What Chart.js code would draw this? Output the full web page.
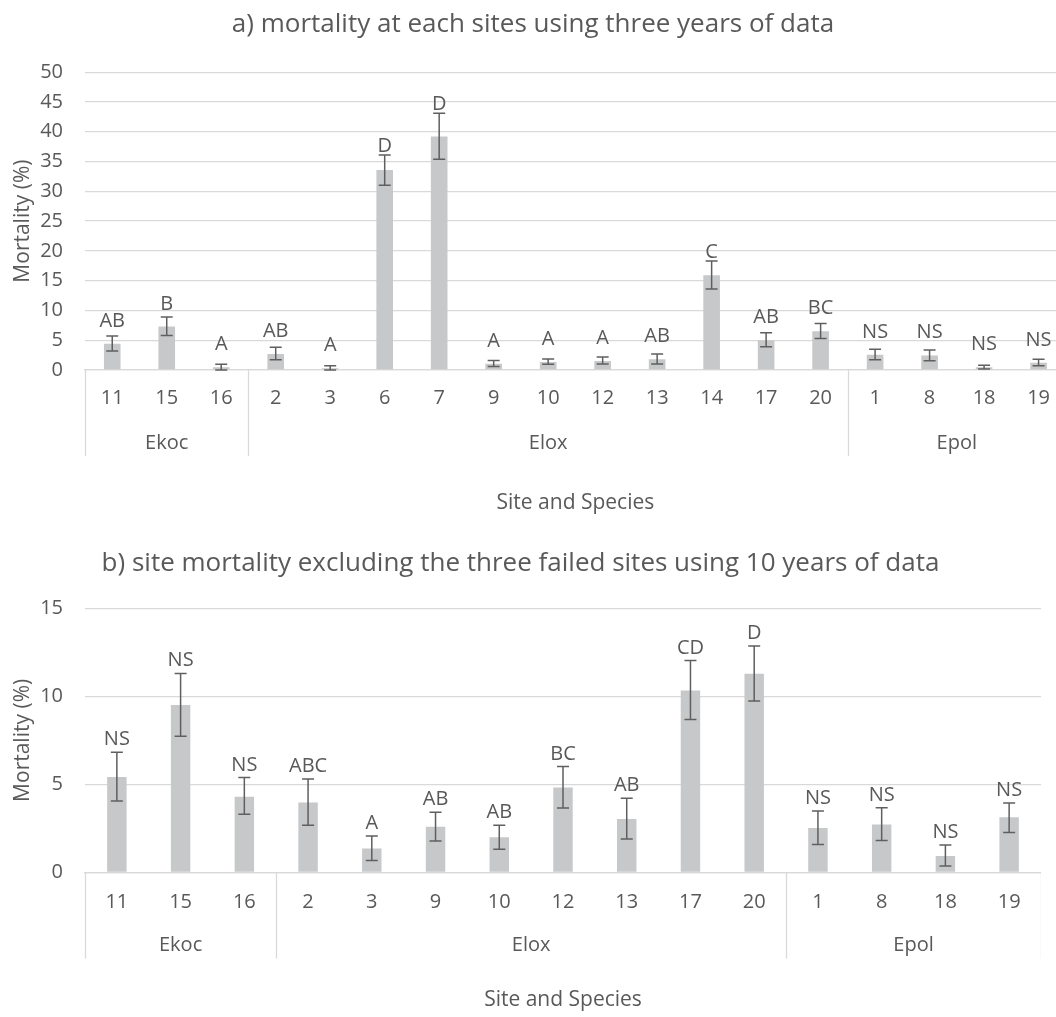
<!DOCTYPE html>
<html>
<head>
<meta charset="utf-8">
<script src="https://cdn.jsdelivr.net/npm/chart.js@4/dist/chart.umd.min.js"></script>
<style>
  html, body { margin: 0; padding: 0; background: #fff; overflow: hidden; width: 1056px; height: 1017px; }
  #wrapA { position: absolute; left: 0; top: 0; }
  #wrapB { position: absolute; left: 0; top: 540px; }
</style>
</head>
<body>
<div id="wrapA"><canvas id="chartA" width="1066" height="540"></canvas></div>
<div id="wrapB"><canvas id="chartB" width="1041" height="477"></canvas></div>
<script>
// a) three years of data
var sitesA = ["11", "15", "16", "2", "3", "6", "7", "9", "10", "12", "13", "14", "17", "20", "1", "8", "18", "19"];
var meanA = [4.4, 7.3, 0.45, 2.7, 0.3, 33.6, 39.2, 1.05, 1.35, 1.5, 1.8, 15.9, 5.0, 6.5, 2.55, 2.45, 0.45, 1.2];
var upperA = [5.7, 8.9, 0.95, 3.8, 0.7, 36.1, 43.1, 1.6, 1.85, 2.2, 2.7, 18.3, 6.25, 7.8, 3.5, 3.35, 0.8, 1.8];
var lowerA = [3.2, 5.8, 0.0, 1.7, 0.0, 31.0, 35.4, 0.6, 0.95, 1.0, 1.0, 13.6, 3.9, 5.3, 1.7, 1.55, 0.15, 0.7];
var lettersA = ["AB", "B", "A", "AB", "A", "D", "D", "A", "A", "A", "AB", "C", "AB", "BC", "NS", "NS", "NS", "NS"];
var speciesA = ["Ekoc", "Elox", "Epol"];
var speciesCountA = [3, 11, 4];
var ticksA = [0, 5, 10, 15, 20, 25, 30, 35, 40, 45, 50];

// b) ten years of data, three failed sites removed
var sitesB = ["11", "15", "16", "2", "3", "9", "10", "12", "13", "17", "20", "1", "8", "18", "19"];
var meanB = [5.42, 9.5, 4.3, 3.97, 1.36, 2.6, 2.0, 4.82, 3.04, 10.33, 11.28, 2.53, 2.72, 0.94, 3.13];
var upperB = [6.82, 11.3, 5.39, 5.31, 2.07, 3.42, 2.68, 6.01, 4.21, 12.03, 12.85, 3.49, 3.68, 1.56, 3.95];
var lowerB = [4.06, 7.73, 3.3, 2.68, 0.68, 1.79, 1.32, 3.66, 1.9, 8.69, 9.73, 1.59, 1.81, 0.37, 2.27];
var lettersB = ["NS", "NS", "NS", "ABC", "A", "AB", "AB", "BC", "AB", "CD", "D", "NS", "NS", "NS", "NS"];
var speciesB = ["Ekoc", "Elox", "Epol"];
var speciesCountB = [3, 8, 4];
var ticksB = [0, 5, 10, 15];

var TEXT = "#595959";
var GRID = "#d9d9d9";
var FONT = "'Open Sans', 'DejaVu Sans', sans-serif";

// error bars, letters over the bars, and the species row under the sites
function makeDecor(upper, lower, letters, species, counts, anchor, gap) {
  return {
    id: "decor",
    afterDatasetsDraw: function(chart) {
      var ctx = chart.ctx;
      var xs = chart.scales.x;
      var ys = chart.scales.y;
      var area = chart.chartArea;
      var bars = chart.getDatasetMeta(0).data;
      var i;
      ctx.save();

      ctx.strokeStyle = "#5f5f5f";
      ctx.lineWidth = 1.5;
      for (i = 0; i < bars.length; i++) {
        var bx = bars[i].x;
        var yt = ys.getPixelForValue(upper[i]);
        var yb = ys.getPixelForValue(lower[i]);
        ctx.beginPath();
        ctx.moveTo(bx, yt); ctx.lineTo(bx, yb);
        ctx.moveTo(bx - 6, yt); ctx.lineTo(bx + 6, yt);
        ctx.moveTo(bx - 6, yb); ctx.lineTo(bx + 6, yb);
        ctx.stroke();
      }

      ctx.fillStyle = TEXT;
      ctx.font = "20px " + FONT;
      ctx.textAlign = "center";
      ctx.textBaseline = "alphabetic";
      for (i = 0; i < bars.length; i++) {
        var errTop = ys.getPixelForValue(upper[i]);
        var ly;
        if (anchor === "bar") {
          // outside end of the bar, but kept clear of a tall error bar
          ly = Math.min(bars[i].y - gap, errTop - 3);
        } else {
          ly = errTop - gap;
        }
        ctx.fillText(letters[i], bars[i].x, ly);
      }

      // group boundaries
      var edges = [area.left];
      var k = 0;
      for (i = 0; i < counts.length; i++) {
        k += counts[i];
        if (k >= bars.length) {
          edges.push(area.right);
        } else {
          edges.push((xs.getPixelForValue(k - 1) + xs.getPixelForValue(k)) / 2);
        }
      }
      ctx.strokeStyle = GRID;
      ctx.lineWidth = 1.3;
      for (i = 0; i < edges.length; i++) {
        var ex = Math.round(edges[i]) + 0.5;
        ctx.beginPath();
        ctx.moveTo(ex, area.bottom);
        ctx.lineTo(ex, area.bottom + 86);
        ctx.stroke();
      }
      ctx.textBaseline = "middle";
      for (i = 0; i < species.length; i++) {
        ctx.fillText(species[i], (edges[i] + edges[i + 1]) / 2, area.bottom + 73);
      }
      ctx.restore();
    }
  };
}

function makeChart(id, title, titlePad, sites, mean, ticks, xHeight, tickPad, xTitlePad, decor) {
  return new Chart(document.getElementById(id), {
    type: "bar",
    data: {
      labels: sites,
      datasets: [{
        data: mean,
        backgroundColor: "#c7c8ca",
        borderWidth: 0,
        categoryPercentage: 1,
        barPercentage: 0.305
      }]
    },
    options: {
      responsive: false,
      animation: false,
      devicePixelRatio: 1,
      layout: { padding: 0 },
      plugins: {
        legend: { display: false },
        tooltip: { enabled: false },
        title: {
          display: true,
          text: title,
          color: TEXT,
          font: { family: FONT, size: 26, weight: "normal", lineHeight: 1.2 },
          padding: titlePad
        }
      },
      scales: {
        x: {
          grid: { display: false, drawTicks: false },
          border: { display: true, color: GRID, width: 1.3 },
          ticks: { color: TEXT, font: { family: FONT, size: 20 }, padding: tickPad, maxRotation: 0, autoSkip: false },
          title: { display: true, text: "Site and Species", color: TEXT, font: { family: FONT, size: 21 }, padding: { top: 0, bottom: xTitlePad } },
          afterFit: function(scale) { scale.height = xHeight; }
        },
        y: {
          min: ticks[0],
          max: ticks[ticks.length - 1],
          afterBuildTicks: function(scale) {
            scale.ticks = ticks.map(function(v) { return { value: v }; });
          },
          grid: { color: GRID, lineWidth: 1.3, drawTicks: false },
          border: { display: false },
          ticks: { color: TEXT, font: { family: FONT, size: 20 }, padding: 22 },
          title: { display: true, text: "Mortality (%)", color: TEXT, font: { family: FONT, size: 21 }, padding: { top: 10, bottom: 0 } },
          afterFit: function(scale) { scale.width = 85; }
        }
      }
    },
    plugins: [decor]
  });
}

document.addEventListener("DOMContentLoaded", function(event) {
  makeChart("chartA", "a) mortality at each sites using three years of data",
    { top: 9, bottom: 32 }, sitesA, meanA, ticksA, 170, 16, 24,
    makeDecor(upperA, lowerA, lettersA, speciesA, speciesCountA, "bar", 17));

  makeChart("chartB", "b) site mortality excluding the three failed sites using 10 years of data",
    { top: 8, bottom: 29 }, sitesB, meanB, ticksB, 144.5, 18, 4,
    makeDecor(upperB, lowerB, lettersB, speciesB, speciesCountB, "error", 7));
});
</script>
</body>
</html>
